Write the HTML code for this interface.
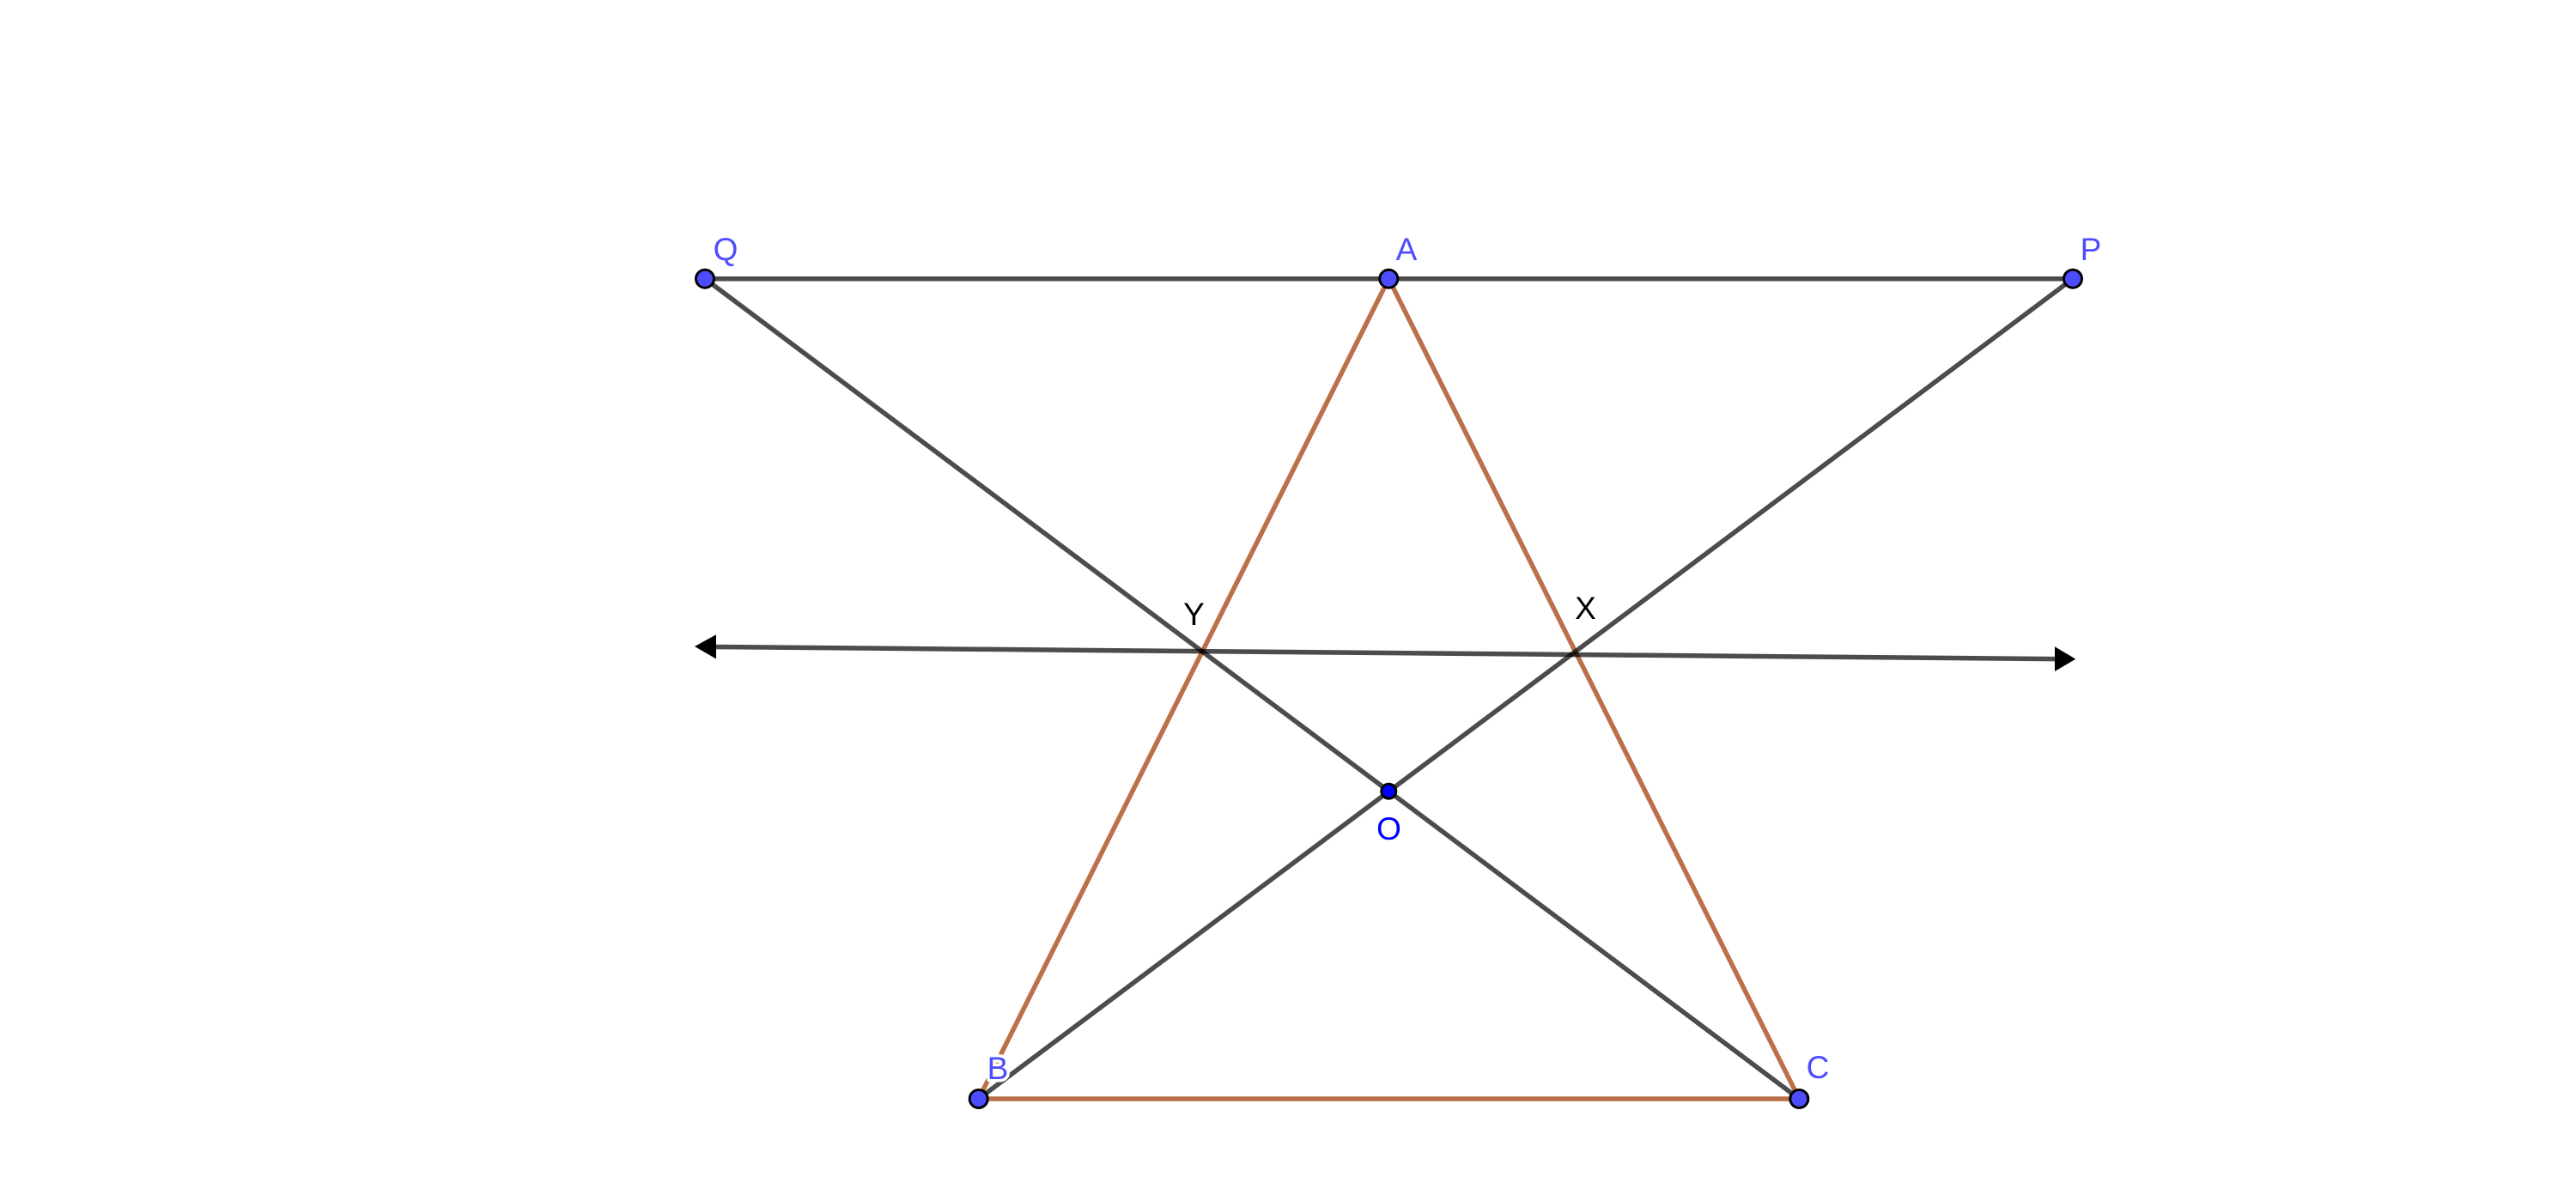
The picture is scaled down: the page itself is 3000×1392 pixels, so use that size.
<!DOCTYPE html>
<html>
<head>
<meta charset="utf-8">
<style>
html,body{margin:0;padding:0;background:#fff;width:3000px;height:1392px;overflow:hidden}
svg{display:block}
text{font-family:"Liberation Sans",sans-serif;font-size:37px;text-anchor:middle}
</style>
</head>
<body>
<svg width="3000" height="1392" viewBox="0 0 3000 1392" xmlns="http://www.w3.org/2000/svg">
<rect width="3000" height="1392" fill="#fff"/>
<g stroke="#bb7049" stroke-width="5.5" fill="none">
<line x1="1617.3" y1="324.7" x2="1139.7" y2="1280"/>
<line x1="1617.3" y1="324.7" x2="2095.3" y2="1280"/>
<line x1="1139.7" y1="1280" x2="2095.3" y2="1280"/>
</g>
<g stroke="#000" stroke-opacity="0.7" stroke-width="5.5" fill="none">
<line x1="821" y1="324.7" x2="2414" y2="324.7"/>
<line x1="821" y1="324.7" x2="2095.3" y2="1280"/>
<line x1="2414" y1="324.7" x2="1139.7" y2="1280"/>
<line x1="832" y1="753.5" x2="2395" y2="767.6"/>
</g>
<polygon points="809,753 834,739.3 834,767.5" fill="#000"/>
<polygon points="2417.3,767.7 2393,753.3 2393,782" fill="#000"/>
<g fill="#4d4dff" stroke="#000" stroke-width="3">
<circle cx="821" cy="324.7" r="10.5"/>
<circle cx="1617.3" cy="324.7" r="10.5"/>
<circle cx="2414" cy="324.7" r="10.5"/>
<circle cx="1139.7" cy="1280" r="10.5"/>
<circle cx="2095.3" cy="1280" r="10.5"/>
</g>
<circle cx="1617.3" cy="921.7" r="8.5" fill="#0000ff" stroke="#000" stroke-width="3"/>
<g fill="#4d4dff">
<text x="845" y="303">Q</text>
<text x="1638" y="303">A</text>
<text x="2435" y="303">P</text>
<text x="1162" y="1257" stroke="#fff" stroke-width="7" stroke-linejoin="round" style="paint-order:stroke">B</text>
<text x="2117" y="1256">C</text>
</g>
<text x="1617.5" y="978" fill="#0000ff">O</text>
<text x="1390.5" y="728" fill="#000">Y</text>
<text x="1846.5" y="721" fill="#000">X</text>
</svg>
</body>
</html>
